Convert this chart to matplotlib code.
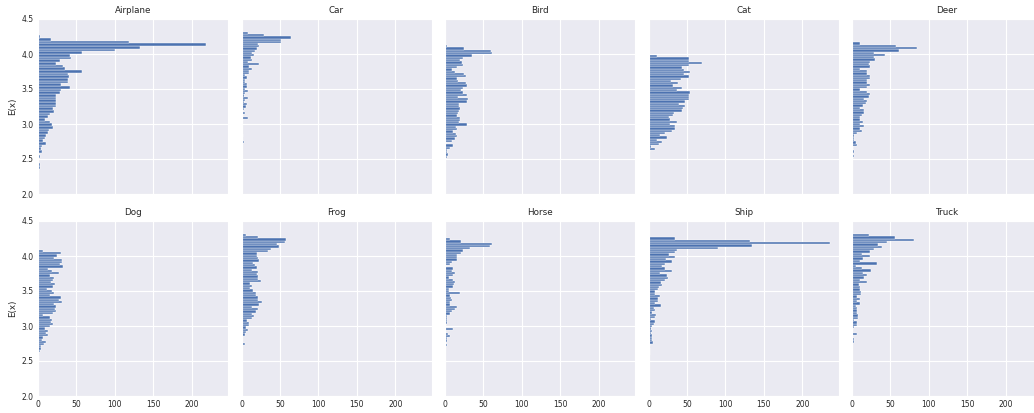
"""Histogram grid: E(x) per CIFAR-10 class, horizontal bars."""

import numpy as np
import matplotlib
matplotlib.use("Agg")
import matplotlib.pyplot as plt
import seaborn as sns

# ── data: counts per bin, listed from the top bin (high E(x)) downwards ─────────
classes = ["Airplane", "Car", "Bird", "Cat", "Deer",
           "Dog", "Frog", "Horse", "Ship", "Truck"]

airplane = [2, 17, 118, 218, 133, 100, 57, 42, 43, 28, 24, 32, 35, 57, 39, 40, 39,
            39, 30, 41, 30, 29, 24, 23, 23, 23, 23, 20, 21, 15, 13, 9, 15, 18, 19,
            14, 13, 11, 9, 7, 10, 5, 4, 5, 1, 3, 0, 0, 2, 3]
car = [9, 29, 64, 51, 51, 22, 23, 20, 17, 14, 16, 12, 14, 8, 23, 10, 14, 10, 10, 4,
       7, 5, 4, 7, 7, 4, 8, 5, 3, 9, 5, 3, 7, 6, 3, 2, 4, 2, 8, 2, 1, 0, 1, 1, 0, 0,
       2, 0, 0, 3]
bird = [3, 25, 60, 61, 35, 24, 20, 22, 23, 16, 9, 13, 25, 27, 15, 17, 27, 28, 23, 21,
        24, 29, 17, 30, 28, 18, 18, 20, 18, 17, 16, 20, 19, 18, 29, 14, 16, 10, 14,
        15, 13, 9, 1, 10, 6, 3, 2, 4, 3]
cat = [1, 11, 52, 52, 69, 52, 43, 46, 54, 46, 52, 42, 29, 38, 32, 43, 37, 54, 52, 52,
       52, 48, 39, 47, 45, 43, 33, 32, 27, 28, 37, 28, 34, 35, 31, 21, 15, 24, 11, 17,
       13, 3, 9, 2, 1, 1, 1, 0, 1, 1]
deer = [11, 57, 84, 61, 29, 43, 28, 30, 23, 22, 24, 11, 19, 20, 24, 24, 20, 19, 23, 19,
        11, 20, 24, 22, 15, 20, 18, 14, 10, 15, 15, 13, 10, 10, 14, 10, 15, 10, 13, 7,
        2, 3, 3, 5, 7, 1, 1, 3, 0, 2]
dog = [6, 30, 25, 21, 31, 31, 28, 33, 13, 18, 27, 15, 21, 20, 17, 22, 20, 12, 18, 21,
       15, 30, 27, 31, 21, 23, 22, 23, 20, 6, 16, 18, 17, 20, 16, 9, 13, 11, 13, 7, 5,
       10, 8, 4, 4, 3, 0, 0, 1, 1]
frog = [6, 22, 58, 57, 46, 49, 38, 34, 20, 20, 21, 23, 15, 17, 20, 13, 22, 20, 21, 21,
        25, 11, 14, 11, 15, 19, 19, 22, 22, 26, 23, 14, 22, 19, 13, 16, 14, 7, 10, 10,
        6, 9, 6, 4, 0, 1, 0, 4, 0, 1]
horse = [6, 21, 61, 58, 33, 24, 21, 15, 16, 16, 9, 7, 1, 10, 9, 13, 11, 5, 10, 13, 12,
         11, 5, 5, 20, 7, 8, 9, 7, 7, 16, 13, 9, 7, 3, 3, 2, 2, 1, 0, 11, 0, 4, 6, 2,
         3, 0, 3]
ship = [35, 132, 236, 134, 90, 37, 35, 26, 35, 23, 30, 22, 17, 22, 30, 15, 24, 25, 22,
        16, 17, 13, 12, 9, 8, 15, 12, 12, 9, 16, 7, 9, 5, 10, 9, 3, 9, 7, 5, 3, 5, 3,
        4, 4, 4, 6, 2, 0, 2, 2, 2]
truck = [22, 56, 81, 45, 34, 39, 28, 23, 13, 24, 14, 11, 32, 5, 13, 25, 14, 19, 15, 10,
         19, 9, 10, 11, 12, 12, 7, 10, 6, 11, 5, 7, 6, 7, 8, 8, 3, 6, 7, 3, 0, 0, 7, 0,
         2, 2]

counts = [airplane, car, bird, cat, deer, dog, frog, horse, ship, truck]

# histogram range (min, max of E(x)) for each class
range_lo = [2.361, 2.724, 2.514, 2.404, 2.524, 2.504, 2.663, 2.714, 2.584, 2.763]
range_hi = [4.269, 4.316, 4.126, 4.016, 4.166, 4.086, 4.317, 4.256, 4.267, 4.317]

y_ticks = [2.0, 2.5, 3.0, 3.5, 4.0, 4.5]
x_ticks = [0, 50, 100, 150, 200]

# ── figure ───────────────────────────────────────────────────────────────────
sns.set_style("darkgrid")
W, H = 1034, 413
fig = plt.figure(figsize=(W / 100, H / 100), dpi=100)

bar_colour = "#4c72b0"
panel_w, panel_h = 190, 175
lefts = [38 + 203.5 * i for i in range(5)]
tops = [19, 221]

for k, name in enumerate(classes):
    row, col = divmod(k, 5)
    x0 = lefts[col]
    y0 = tops[row] + panel_h
    ax = fig.add_axes([x0 / W, (H - y0) / H, panel_w / W, panel_h / H])

    c = np.array(counts[k][::-1], dtype=float)  # bottom -> top
    edges = np.linspace(range_lo[k], range_hi[k], len(c) + 1)
    ax.barh(edges[:-1], c, height=np.diff(edges), align="edge",
            color=bar_colour, edgecolor="white", linewidth=0.3, zorder=2)

    ax.set_xlim(0, 247)
    ax.set_ylim(2.0, 4.5)
    ax.set_yticks(y_ticks)
    ax.set_xticks(x_ticks)
    ax.grid(color="white", linewidth=0.8)
    ax.tick_params(length=0, labelsize=5.5, colors="#262626", pad=3)
    ax.set_title(name, fontsize=6.3, color="#262626", pad=4)

    if col == 0:
        ax.set_ylabel("E(x)", fontsize=6.3, color="#262626", labelpad=3)
    else:
        ax.tick_params(labelleft=False)
    if row == 0:
        ax.tick_params(labelbottom=False)

fig.savefig("out.png", dpi=100)
